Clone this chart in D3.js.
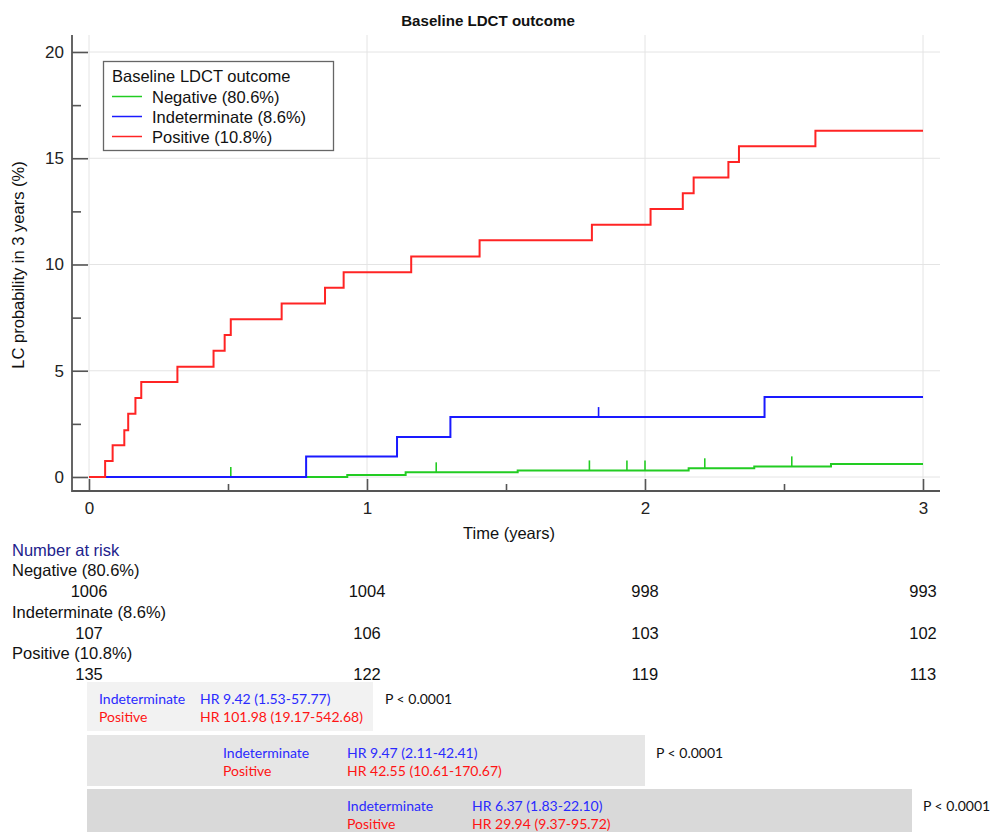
<!DOCTYPE html>
<html><head><meta charset="utf-8">
<script src="https://cdn.jsdelivr.net/npm/d3@7"></script>
<style>
html,body{margin:0;padding:0;background:#fff;}
svg{display:block;}
text{font-family:"Liberation Sans",Arial,sans-serif;}
.hr{font-family:Lato,"Open Sans",sans-serif;}
</style></head>
<body>
<script>
// ---------------- data ----------------
const title = "Baseline LDCT outcome";
const seriesNames = ["Negative (80.6%)", "Indeterminate (8.6%)", "Positive (10.8%)"];
const seriesColors = ["#22cc22", "#1a1aff", "#ff2424"];

const negTimes  = [0, 0.929, 1.139, 1.542, 2.157, 2.393, 2.669];
const negValues = [0, 0.10, 0.22, 0.31, 0.41, 0.50, 0.61];
const negCensor = [0.51, 1.249, 1.80, 1.935, 2.0, 2.215, 2.528];

const indTimes  = [0, 0.781, 1.108, 1.30, 2.43];
const indValues = [0, 0.96, 1.88, 2.82, 3.76];
const indCensor = [1.833];

const posTimes  = [0, 0.058, 0.085, 0.127, 0.141, 0.167, 0.188, 0.318, 0.448, 0.488, 0.51, 0.693, 0.849, 0.916, 1.159, 1.405, 1.809, 2.02, 2.136, 2.175, 2.30, 2.338, 2.613];
const posValues = [0, 0.75, 1.50, 2.20, 2.98, 3.72, 4.47, 5.19, 5.94, 6.68, 7.42, 8.16, 8.91, 9.63, 10.38, 11.14, 11.87, 12.61, 13.35, 14.09, 14.82, 15.56, 16.30];
const posCensor = [];

const xMajorTicks = [0, 1, 2, 3];
const xMinorTicks = [0.5, 1.5, 2.5];
const yMajorTicks = [0, 5, 10, 15, 20];
const yMinorTicks = [2.5, 7.5, 12.5, 17.5];

const riskTimes = [0, 1, 2, 3];
const riskNeg = [1006, 1004, 998, 993];
const riskInd = [107, 106, 103, 102];
const riskPos = [135, 122, 119, 113];

const hrLabels = ["Indeterminate", "Positive"];
const hrRows = [
  ["HR 9.42 (1.53-57.77)", "HR 101.98 (19.17-542.68)"],
  ["HR 9.47 (2.11-42.41)", "HR 42.55 (10.61-170.67)"],
  ["HR 6.37 (1.83-22.10)", "HR 29.94 (9.37-95.72)"]
];
const hrP = ["P < 0.0001", "P < 0.0001", "P < 0.0001"];

// ---------------- layout ----------------
const W = 990, H = 832;
const svg = d3.select("body").append("svg").attr("width", W).attr("height", H);

const x = d3.scaleLinear().domain([0, 3]).range([89, 923]);
const y = d3.scaleLinear().domain([0, 20]).range([477, 52]);
const axisX = 72, axisY = 491, plotTop = 35, plotRight = 940;

// gridlines
const grid = svg.append("g").attr("stroke", "#e4e4e4").attr("stroke-width", 1);
grid.selectAll(".h").data(yMajorTicks).join("line")
  .attr("x1", axisX).attr("x2", plotRight)
  .attr("y1", d => y(d)).attr("y2", d => y(d));
grid.selectAll(".v").data(xMajorTicks).join("line")
  .attr("x1", d => x(d)).attr("x2", d => x(d))
  .attr("y1", plotTop).attr("y2", axisY);

// axes
const axisColor = "#555";
const gy = svg.append("g").attr("transform", `translate(${axisX},0)`);
gy.call(d3.axisLeft(y).tickValues(yMajorTicks).tickSize(-16).tickPadding(8));
const gy2 = svg.append("g").attr("transform", `translate(${axisX},0)`);
gy2.call(d3.axisLeft(y).tickValues(yMinorTicks).tickSize(-9).tickFormat(""));
const gx = svg.append("g").attr("transform", `translate(0,${axisY})`);
gx.call(d3.axisBottom(x).tickValues(xMajorTicks).tickSize(-12).tickPadding(11).tickFormat(d3.format("d")));
const gx2 = svg.append("g").attr("transform", `translate(0,${axisY})`);
gx2.call(d3.axisBottom(x).tickValues(xMinorTicks).tickSize(-7).tickFormat(""));
[gy, gy2, gx, gx2].forEach(g => {
  g.select(".domain").remove();
  g.selectAll(".tick line").attr("stroke", axisColor).attr("stroke-width", 1.6);
  g.selectAll(".tick text").attr("fill", "#222").style("font-size", "17px").style("font-family", '"Liberation Sans",Arial,sans-serif');
});
svg.append("path")
  .attr("d", `M${axisX},${plotTop}V${axisY}H${plotRight}`)
  .attr("fill", "none").attr("stroke", axisColor).attr("stroke-width", 1.8);

// curves
const line = d3.line().curve(d3.curveStepAfter).x(d => x(d[0])).y(d => y(d[1]));
function series(times, values) {
  const pts = times.map((t, i) => [t, values[i]]);
  pts.push([3, values[values.length - 1]]);
  return pts;
}
function valueAt(times, values, t) {
  const i = d3.bisectRight(times, t) - 1;
  return values[Math.max(0, i)];
}
const allSeries = [
  [negTimes, negValues, negCensor, seriesColors[0]],
  [indTimes, indValues, indCensor, seriesColors[1]],
  [posTimes, posValues, posCensor, seriesColors[2]]
];
allSeries.forEach(([t, v, c, col]) => {
  svg.append("path").datum(series(t, v)).attr("d", line)
    .attr("fill", "none").attr("stroke", col).attr("stroke-width", 2);
  svg.append("g").selectAll("line").data(c).join("line")
    .attr("x1", d => x(d)).attr("x2", d => x(d))
    .attr("y1", d => y(valueAt(t, v, d))).attr("y2", d => y(valueAt(t, v, d)) - 10)
    .attr("stroke", col).attr("stroke-width", 1.6);
});

// title & axis labels
svg.append("text").attr("x", 488).attr("y", 20).attr("text-anchor", "middle")
  .attr("dominant-baseline", "central").style("font-size", "15.1px").style("font-weight", "bold")
  .attr("fill", "#111").text(title);
svg.append("text").attr("x", 509).attr("y", 533).attr("text-anchor", "middle")
  .attr("dominant-baseline", "central").style("font-size", "16.5px").attr("fill", "#111").text("Time (years)");
svg.append("text").attr("transform", "translate(18,265) rotate(-90)").attr("text-anchor", "middle")
  .attr("dominant-baseline", "central").style("font-size", "16.5px").attr("fill", "#111")
  .text("LC probability in 3 years (%)");

// legend
const lg = svg.append("g");
lg.append("rect").attr("x", 103.5).attr("y", 61.5).attr("width", 230).attr("height", 89)
  .attr("fill", "#fff").attr("stroke", "#666").attr("stroke-width", 1.3);
lg.append("text").attr("x", 112).attr("y", 76).attr("dominant-baseline", "central")
  .style("font-size", "16.5px").attr("fill", "#111").text(title);
seriesNames.forEach((n, i) => {
  const yy = 96.5 + i * 20;
  lg.append("line").attr("x1", 112).attr("x2", 142).attr("y1", yy).attr("y2", yy)
    .attr("stroke", seriesColors[i]).attr("stroke-width", 1.5);
  lg.append("text").attr("x", 152).attr("y", yy).attr("dominant-baseline", "central")
    .style("font-size", "16.5px").attr("fill", "#111").text(n);
});

// number at risk
const rk = svg.append("g").style("font-size", "16.5px");
rk.append("text").attr("x", 12).attr("y", 550).attr("dominant-baseline", "central")
  .attr("fill", "#22228c").text("Number at risk");
const riskRows = [riskNeg, riskInd, riskPos];
seriesNames.forEach((n, i) => {
  const ly = 570 + i * 41.5;
  rk.append("text").attr("x", 12).attr("y", ly).attr("dominant-baseline", "central")
    .attr("fill", "#111").text(n);
  rk.selectAll(null).data(riskTimes).join("text")
    .attr("x", d => x(d)).attr("y", ly + 21).attr("text-anchor", "middle")
    .attr("dominant-baseline", "central").attr("fill", "#111")
    .text((d, j) => riskRows[i][j]);
});

// HR boxes
const boxes = [
  {x0: 87, x1: 373, y0: 682, y1: 731, fill: "#f2f2f2", lx: 99, hx: 200, px: 385, ty: 698},
  {x0: 87, x1: 645, y0: 735, y1: 786, fill: "#e6e6e6", lx: 223, hx: 347, px: 656, ty: 752},
  {x0: 87, x1: 912, y0: 789, y1: 840, fill: "#d9d9d9", lx: 347, hx: 472, px: 923, ty: 805}
];
const hrColors = ["#2a2aff", "#ff1414"];
boxes.forEach((b, i) => {
  const g = svg.append("g").attr("class", "hr").style("font-size", "14px");
  g.append("rect").attr("x", b.x0).attr("y", b.y0).attr("width", b.x1 - b.x0).attr("height", b.y1 - b.y0)
    .attr("fill", b.fill);
  hrLabels.forEach((lab, k) => {
    g.append("text").attr("class", "hr").attr("x", b.lx).attr("y", b.ty + k * 18.5)
      .attr("dominant-baseline", "central").attr("fill", hrColors[k]).text(lab);
    g.append("text").attr("class", "hr").attr("x", b.hx).attr("y", b.ty + k * 18.5)
      .attr("dominant-baseline", "central").attr("fill", hrColors[k]).text(hrRows[i][k]);
  });
  g.append("text").attr("class", "hr").attr("x", b.px).attr("y", b.ty)
    .attr("dominant-baseline", "central").attr("fill", "#111").text(hrP[i]);
});
</script>
</body></html>
